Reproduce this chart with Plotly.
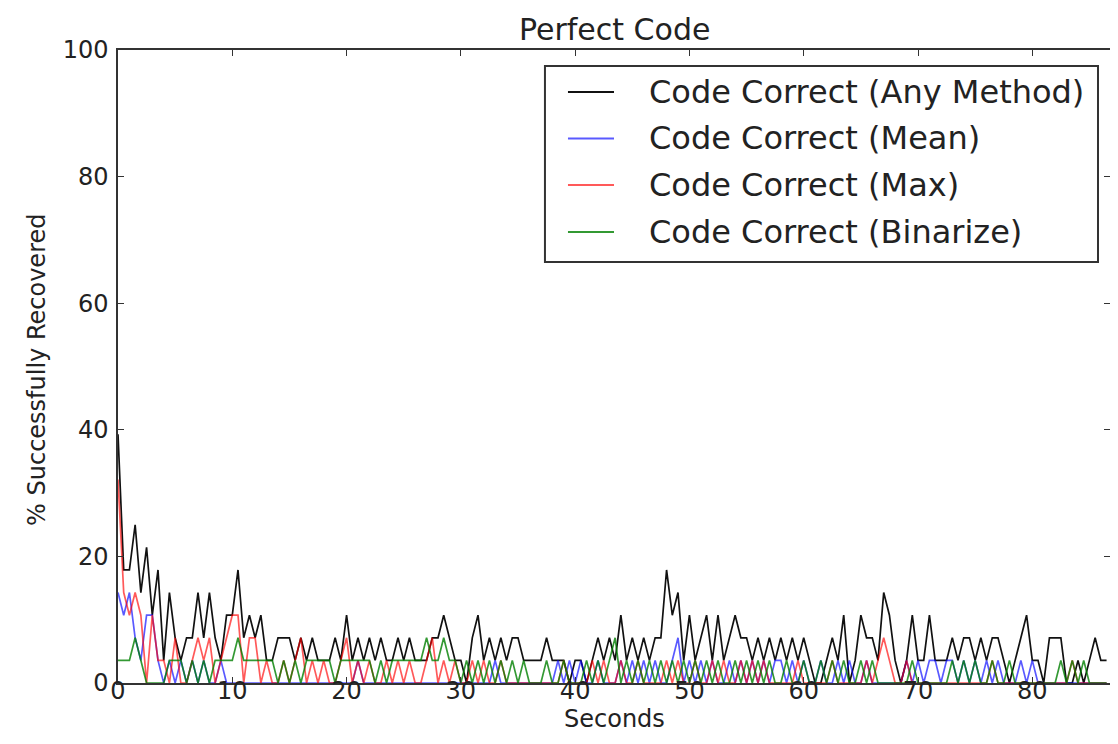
import plotly.graph_objs as go

# time axis, half-second steps
seconds = [i * 0.5 for i in range(174)]

# number of codes recovered (out of 28) at each time step
any_method = [11, 5, 5, 7, 4, 6, 3, 5, 1, 4,  2, 1, 2, 2, 4, 2, 4, 2, 1, 3,
              3, 5, 2, 3, 2, 3, 1, 1, 2, 2,  2, 1, 2, 1, 2, 1, 1, 1, 2, 1,
              3, 1, 2, 1, 2, 1, 2, 1, 1, 2,  1, 2, 1, 1, 1, 2, 2, 3, 2, 1,
              1, 0, 2, 3, 1, 2, 1, 2, 1, 2,  2, 1, 1, 1, 1, 2, 1, 1, 1, 0,
              1, 1, 0, 1, 2, 1, 2, 1, 3, 1,  2, 1, 2, 1, 2, 2, 5, 3, 4, 1,
              3, 1, 2, 3, 1, 3, 1, 2, 3, 2,  2, 1, 2, 1, 2, 1, 2, 1, 2, 1,
              2, 1, 0, 0, 1, 2, 1, 3, 0, 1,  3, 2, 2, 1, 4, 3, 1, 0, 1, 3,
              1, 1, 3, 1, 1, 1, 2, 1, 2, 2,  1, 2, 1, 2, 2, 1, 0, 1, 2, 3,
              1, 1, 0, 2, 2, 2, 0, 0, 1, 0,  1, 2, 1, 1]
mean = [4, 3, 4, 2, 1, 3, 3, 1, 0, 1,  0, 1, 0, 1, 0, 1, 0, 0, 1, 0,
        0, 0, 0, 0, 0, 0, 0, 0, 0, 0,  0, 0, 0, 0, 0, 0, 0, 0, 0, 0,
        0, 0, 1, 0, 0, 0, 0, 0, 0, 0,  0, 0, 0, 0, 0, 0, 0, 0, 0, 0,
        0, 0, 0, 0, 0, 0, 1, 0, 0, 0,  0, 0, 0, 0, 0, 0, 0, 1, 0, 1,
        0, 1, 0, 0, 1, 0, 0, 0, 1, 0,  1, 0, 1, 0, 1, 0, 0, 1, 2, 0,
        1, 0, 1, 0, 1, 0, 0, 1, 0, 1,  0, 1, 0, 1, 0, 1, 1, 0, 1, 0,
        1, 0, 0, 1, 0, 0, 1, 0, 1, 0,  0, 1, 0, 0, 0, 0, 0, 0, 1, 0,
        1, 0, 1, 1, 0, 1, 1, 0, 1, 0,  1, 0, 1, 0, 1, 0, 0, 0, 1, 0,
        1, 0, 0, 0, 0, 0, 0, 0, 0, 0,  0, 0, 0, 0]
maximum = [9, 4, 3, 4, 3, 0, 3, 1, 1, 0,  2, 0, 0, 1, 2, 1, 2, 0, 1, 2,
           3, 3, 0, 2, 2, 0, 1, 0, 0, 1,  0, 1, 2, 0, 1, 0, 1, 0, 0, 1,
           2, 0, 1, 0, 1, 0, 0, 1, 0, 1,  0, 1, 0, 0, 1, 2, 0, 1, 0, 1,
           0, 0, 1, 0, 1, 0, 0, 1, 0, 0,  0, 0, 0, 0, 0, 0, 0, 0, 1, 0,
           0, 0, 0, 1, 0, 1, 0, 0, 1, 0,  0, 1, 0, 0, 0, 0, 1, 0, 1, 0,
           0, 1, 0, 0, 1, 0, 1, 0, 0, 1,  0, 1, 0, 1, 0, 0, 0, 0, 0, 1,
           0, 0, 0, 0, 0, 1, 0, 0, 0, 0,  0, 1, 0, 1, 2, 1, 0, 0, 1, 0,
           0, 0, 0, 0, 0, 0, 0, 0, 0, 0,  0, 0, 0, 1, 0, 0, 0, 0, 0, 0,
           0, 0, 0, 0, 0, 0, 0, 1, 0, 0,  0, 0, 0, 0]
binarize = [1, 1, 1, 2, 1, 0, 0, 0, 0, 1,  1, 1, 0, 1, 0, 1, 0, 1, 1, 1,
            1, 2, 1, 1, 1, 1, 1, 1, 0, 1,  0, 1, 0, 1, 1, 1, 1, 1, 0, 1,
            1, 1, 1, 1, 1, 0, 1, 0, 1, 1,  1, 1, 1, 1, 2, 1, 1, 2, 1, 1,
            0, 1, 0, 1, 0, 1, 0, 1, 0, 1,  0, 1, 0, 0, 0, 1, 0, 0, 1, 0,
            0, 0, 1, 0, 1, 0, 1, 2, 0, 1,  0, 1, 0, 1, 0, 1, 0, 1, 0, 1,
            0, 1, 0, 1, 0, 1, 0, 0, 1, 0,  1, 0, 1, 0, 1, 0, 0, 1, 0, 0,
            1, 0, 0, 1, 0, 1, 0, 1, 0, 0,  1, 0, 1, 0, 0, 0, 0, 0, 0, 1,
            0, 0, 0, 0, 0, 0, 1, 0, 1, 0,  1, 0, 0, 1, 0, 0, 1, 0, 0, 0,
            0, 0, 0, 0, 0, 1, 0, 1, 0, 1,  0, 0, 0, 0]
n_codes = 28

series = [
    ("Code Correct (Any Method)", any_method, "#111111"),
    ("Code Correct (Mean)", mean, "rgba(0,0,255,0.65)"),
    ("Code Correct (Max)", maximum, "rgba(255,0,0,0.65)"),
    ("Code Correct (Binarize)", binarize, "rgba(0,128,0,0.8)"),
]

font = "DejaVu Sans, Bitstream Vera Sans, sans-serif"

fig = go.Figure()
for name, counts, color in series:
    pct = [c * 100.0 / n_codes for c in counts]
    fig.add_trace(
        go.Scatter(
            x=seconds,
            y=pct,
            mode="lines",
            name=name,
            line=dict(color=color, width=1.7),
            showlegend=False,
        ))

# legend box drawn by hand (matplotlib-like spacing)
shapes = [dict(type="rect", xref="paper", yref="paper",
               x0=0.4304, x1=0.9879, y0=0.665, y1=0.9747,
               line=dict(color="#333333", width=2), fillcolor="white",
               layer="above")]
annotations = []
row_y = [0.9336, 0.8602, 0.7867, 0.7125]
for (name, counts, color), yy in zip(series, row_y):
    shapes.append(dict(type="line", xref="paper", yref="paper",
                       x0=0.4536, x1=0.5, y0=yy, y1=yy,
                       line=dict(color=color, width=2), layer="above"))
    annotations.append(dict(text=name, xref="paper", yref="paper",
                            x=0.5333, y=yy, xanchor="left", yanchor="middle",
                            showarrow=False,
                            font=dict(size=32, color="#222222")))

axis_style = dict(
    showgrid=False,
    zeroline=False,
    showline=True,
    linecolor="#333333",
    linewidth=1.5,
    mirror="ticks",
    ticks="inside",
    ticklen=6,
    tickcolor="#333333",
    tickfont=dict(family=font, size=24, color="#222222"),
)

annotations += [
    dict(text="Perfect Code", xref="paper", yref="paper", x=0.5, y=1.032,
         showarrow=False, font=dict(size=30), yanchor="middle"),
    dict(text="Seconds", xref="paper", yref="paper", x=0.5, y=-0.057,
         showarrow=False, font=dict(size=24), yanchor="middle"),
    dict(text="% Successfully Recovered", xref="paper", yref="paper",
         x=-0.081, y=0.494, textangle=-90, showarrow=False,
         font=dict(size=24), xanchor="center", yanchor="middle"),
]

# the page body adds an 8px offset, margins are set to land the axes
# at the same pixels as the reference
fig.update_layout(
    width=1118,
    height=744,
    margin=dict(l=110, r=16, t=42, b=69),
    paper_bgcolor="white",
    plot_bgcolor="white",
    font=dict(family=font, color="#222222"),
    xaxis=dict(range=[0, 86.8], tick0=0, dtick=10, ticklabelstandoff=-15,
               **axis_style),
    yaxis=dict(range=[0, 100], tick0=0, dtick=20, ticklabelstandoff=3,
               **axis_style),
    shapes=shapes,
    annotations=annotations,
)

fig.write_html("out.html")
